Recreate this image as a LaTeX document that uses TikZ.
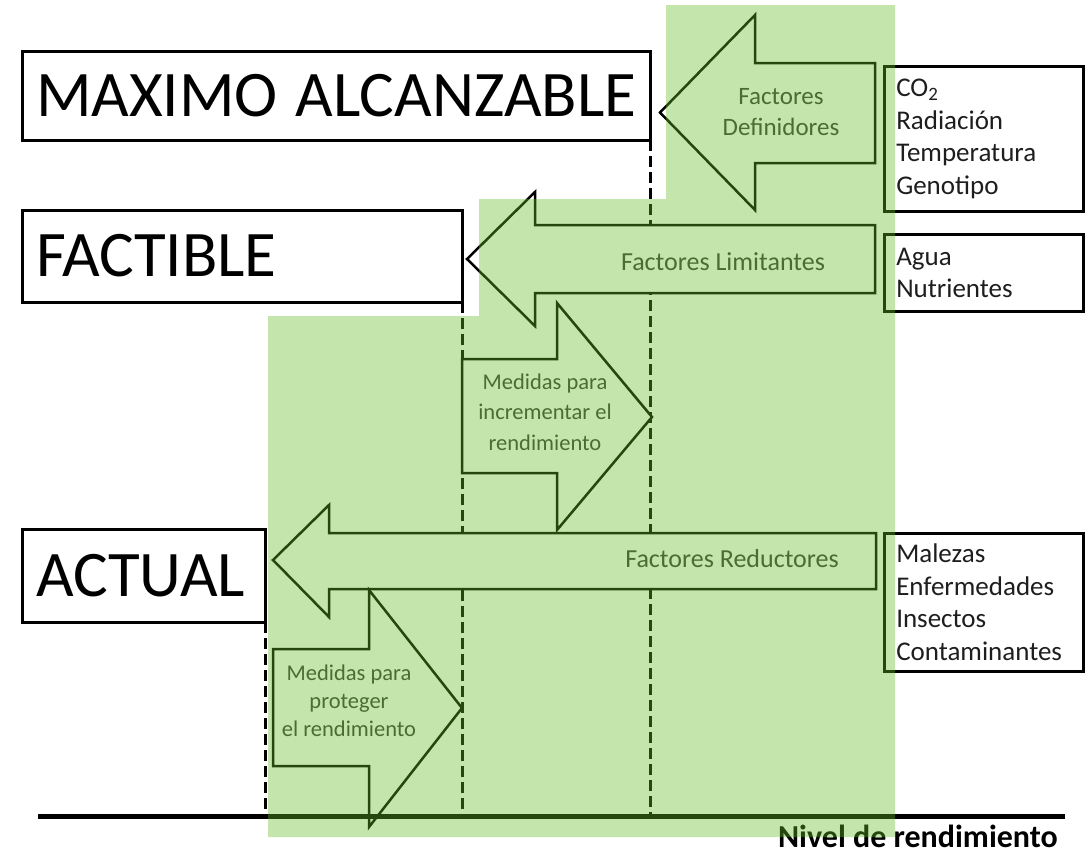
\documentclass[tikz,border=0pt]{standalone}
\usepackage{fontspec}
\setmainfont{Carlito}
\definecolor{overlaygreen}{RGB}{100,190,40}
\definecolor{labelgrey}{RGB}{60,60,60}
\definecolor{boxtext}{RGB}{30,30,30}
\tikzset{
  bigbox/.style={draw, line width=3pt, align=left, inner xsep=14pt, outer sep=0pt, anchor=north west,
    font=\fontsize{65}{72}\selectfont, text=black},
  listbox/.style={draw, line width=2.5pt, align=left, inner xsep=12pt, anchor=north west,
    font=\fontsize{27}{32.5}\selectfont, text=boxtext, text width=175pt, minimum width=199pt},
  blockarrow/.style={draw=black, line width=2.5pt, fill=white, line join=miter},
  arrowlabel/.style={align=center, text=labelgrey},
  dashline/.style={line width=3pt, dash pattern=on 11pt off 5pt},
  overlay/.style={fill=overlaygreen, fill opacity=0.38, draw=none}
}
\begin{document}
\begin{tikzpicture}[x=1pt,y=-1pt]
\useasboundingbox (0,0) rectangle (1086,855);
% level boxes
\node[bigbox, text width=600pt, minimum width=628pt, minimum height=89pt] (max) at (22,51) {\mbox{MAXIMO\hspace{-4pt} ALCANZABLE}};
\node[bigbox, text width=412pt, minimum width=440pt, minimum height=92pt] (fac) at (22,210) {FACTIBLE};
\node[bigbox, text width=215pt, minimum width=243pt, minimum height=93pt] (act) at (22,529) {ACTUAL};
% baseline
\coordinate (bl) at (38,816);
\coordinate (br) at (1065,816);
% dashed level lines
\draw[dashline] (max.south east) -- (max.south east |- bl);
\draw[dashline] (fac.south east) -- (fac.south east |- bl);
\draw[dashline] (act.south east) -- (act.south east |- bl);
% block arrows
\draw[blockarrow] (660,112.5) -- (755,15) -- (755,63) -- (875,63) -- (875,163) -- (755,163) -- (755,210) -- cycle;
\draw[blockarrow] (467,259) -- (535,192) -- (535,225) -- (875,225) -- (875,293) -- (535,293) -- (535,326) -- cycle;
\draw[blockarrow] (652,417) -- (557,303) -- (557,359) -- (462,359) -- (462,473) -- (557,473) -- (557,530) -- cycle;
\draw[blockarrow] (273,560) -- (329,505) -- (329,533) -- (876,533) -- (876,589) -- (329,589) -- (329,617) -- cycle;
\draw[blockarrow] (462,708) -- (369,590) -- (369,649) -- (273,649) -- (273,766) -- (369,766) -- (369,827) -- cycle;
% baseline on top
\draw[line width=5pt] (bl) -- (br);
% arrow labels
\node[arrowlabel, font=\fontsize{25}{31}\selectfont] (defl) at (781,112.5) {Factores\\Definidores};
\node[arrowlabel, font=\fontsize{26}{31}\selectfont] (liml) at (723,262) {Factores Limitantes};
\node[arrowlabel, font=\fontsize{22.5}{30.5}\selectfont] (incl) at (545,412) {Medidas para\\incrementar el\\rendimiento};
\node[arrowlabel, font=\fontsize{26}{31}\selectfont] (redl) at (732,559) {Factores Reductores};
\node[arrowlabel, font=\fontsize{22.5}{28}\selectfont] (prol) at (349,701) {Medidas para\\proteger\\el rendimiento};
% factor lists
\node[listbox, minimum height=145pt] (l1) at (883,65) {CO\textsubscript{2}\\Radiación\\Temperatura\\Genotipo};
\node[listbox, minimum height=77pt] (l2) at (883,233) {Agua\\Nutrientes};
\node[listbox, minimum height=138pt] (l3) at (883,532) {Malezas\\Enfermedades\\Insectos\\Contaminantes};
% axis label
\node[font=\bfseries\fontsize{32}{36}\selectfont, anchor=base east, inner sep=0pt] (nivel) at (1058,847) {Nivel de rendimiento};
% translucent green overlay
\path[overlay] (666,5) -- (895,5) -- (895,837) -- (268,837) -- (268,316) -- (479,316) -- (479,199) -- (666,199) -- cycle;
\end{tikzpicture}
\end{document}
